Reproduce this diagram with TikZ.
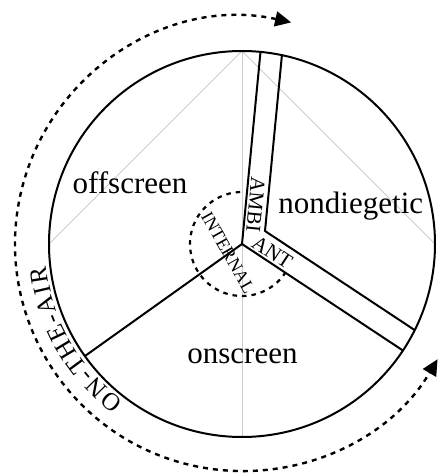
\documentclass[tikz,border=0pt]{standalone}
\usepackage{fontspec}
\setmainfont{Liberation Serif}
\usetikzlibrary{arrows.meta,decorations.text,calc}

\begin{document}
\begin{tikzpicture}[x=1pt,y=1pt,
  rim/.style={line width=2pt,line join=miter},
  guide/.style={line width=0.9pt,color=black!20},
  ring/.style={line width=2.4pt,dash pattern=on 5pt off 5pt},
  region/.style={font=\fontsize{31}{31}\selectfont,anchor=base,inner sep=0pt},
  band/.style={font=\fontsize{21}{21}\selectfont,anchor=base west,inner sep=0pt}]
\useasboundingbox (-242,-230) rectangle (197,244);

\draw[guide] (0,193) -- (0,-193);
\draw[guide] (-193,0) -- (0,193) -- (193,0);

\coordinate (O) at (0,0);
\coordinate (K) at (23,13);
\draw[rim] (O) circle (193);
\draw[rim] (84.5:193) -- (O) -- (-33.5:193);
\draw[rim] (O) -- (215.5:193);
\draw[rim] (78.06:193) -- (K) -- (-26.5:193);

\draw[ring,line width=2.2pt,dash pattern=on 4.5pt off 5pt] (92:52) arc (92:326:52);
\draw[ring,{Triangle[length=16pt,width=15pt]}-{Triangle[length=16pt,width=15pt]}]
  (77.5:227) arc (77.5:329.5:227);

\path[decorate,decoration={text along path,text align=fit to path,
  text={|\fontsize{25}{25}\selectfont|ON-THE-AIR}}]
  (233:197) arc (233:186.5:197);

\node[band,rotate=-95.5] (ambi) at ($(84.5:68)+(-5.5:3)$) {AMBI};
\node[band,rotate=-33.5] (ant) at ($(-33.5:8)+(56.5:3)$) {ANT};
\node[rotate=-60.5,font=\fontsize{18}{18}\selectfont,inner sep=0pt] (internal) at (-14,-8.5) {INTERNAL};

\node[region] (offscreen) at (-112,50) {offscreen};
\node[region] (nondiegetic) at (108.8,30.7) {nondiegetic};
\node[region] (onscreen) at (0.5,-119.3) {onscreen};
\end{tikzpicture}
\end{document}
